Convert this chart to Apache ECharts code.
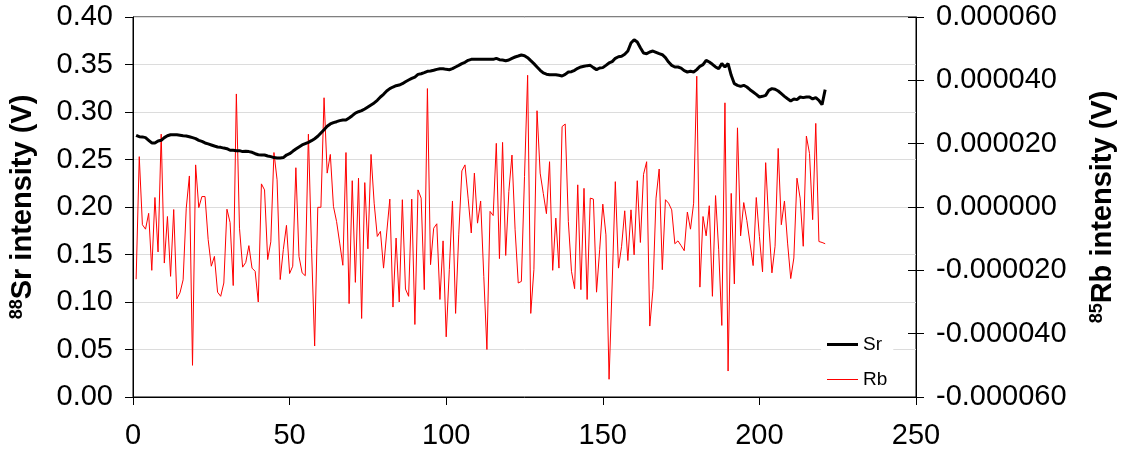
<!DOCTYPE html>
<html>
<head>
<meta charset="utf-8">
<script src="https://cdn.jsdelivr.net/npm/echarts@6/dist/echarts.min.js"></script>
<style>html,body{margin:0;padding:0;background:#fff}#chart{width:1129px;height:462px}</style>
</head>
<body>
<div id="chart"></div>
<script>
// Sr intensity (V), scans 1..221
const srValues = [
0.2755,0.274,0.2738,0.273,0.2702,0.2674,0.2674,0.2695,0.2702,0.273,
0.275,0.2761,0.276,0.276,0.2755,0.275,0.2748,0.274,0.273,0.272,
0.2702,0.269,0.2674,0.2664,0.2653,0.2642,0.2632,0.2628,0.262,0.2614,
0.2597,0.2597,0.2593,0.2593,0.2583,0.2586,0.2583,0.2576,0.2561,0.255,
0.2547,0.2547,0.2537,0.253,0.252,0.2516,0.2516,0.252,0.2547,0.2561,
0.2586,0.261,0.2632,0.2653,0.2667,0.2681,0.2698,0.2719,0.2744,0.2779,
0.2814,0.285,0.2874,0.2888,0.2898,0.2909,0.2916,0.2916,0.2937,0.2961,
0.2989,0.3003,0.3014,0.3032,0.3053,0.3074,0.3095,0.3123,0.3158,0.3186,
0.3221,0.3246,0.3263,0.3277,0.3284,0.3298,0.3319,0.3337,0.3354,0.3368,
0.3396,0.3403,0.3414,0.3428,0.3431,0.3439,0.3449,0.3456,0.3456,0.3449,
0.3445,0.3456,0.3474,0.3491,0.3509,0.3523,0.3544,0.3554,0.3554,0.3554,
0.3554,0.3554,0.3554,0.3554,0.3554,0.3565,0.3551,0.3547,0.354,0.3547,
0.3565,0.3579,0.3589,0.36,0.3593,0.3572,0.354,0.3509,0.3474,0.3439,
0.3411,0.3398,0.3393,0.3393,0.3393,0.3386,0.3379,0.3396,0.3421,0.3424,
0.3439,0.346,0.3474,0.3481,0.3488,0.3491,0.3467,0.3446,0.3463,0.3467,
0.3491,0.3516,0.353,0.3565,0.3582,0.3586,0.3607,0.3642,0.3726,0.3761,
0.3737,0.3677,0.3621,0.3614,0.3632,0.3642,0.3628,0.3614,0.3603,0.3572,
0.3526,0.3491,0.3474,0.3474,0.3462,0.3435,0.3421,0.3428,0.3421,0.3446,
0.3481,0.3498,0.3544,0.3526,0.3502,0.3474,0.3456,0.3509,0.3474,0.3509,
0.3386,0.3298,0.3281,0.327,0.3281,0.3263,0.3235,0.3211,0.3186,0.3158,
0.3165,0.3175,0.3228,0.3246,0.3239,0.3221,0.3193,0.3165,0.314,0.3116,
0.3137,0.313,0.3158,0.3151,0.3158,0.3158,0.3137,0.3151,0.3123,0.3077,
0.3235
];
// Rb intensity in microvolts (x 1e-6 V), scans 1..221
const rbMicroV = [
-22.8,15.9,-5.6,-7,-2,-20,3,-14.2,23,-17.7,
-3,-21.9,-0.8,-29,-27.1,-23,-0.4,9.8,-50,13.3,
-0.2,3.3,3.3,-10.3,-18.7,-15.6,-26.9,-28.2,-24,-0.7,
-4.9,-24.8,35.7,-6.7,-19,-17.5,-12.2,-19.3,-20.3,-30,
7.3,5.4,-16.6,-11,17.2,8.6,-22.9,-13.4,-5.8,-21,
-18.7,12.4,-15.6,-20.8,-21.7,23,-13,-43.9,-0.1,-0.1,
34.5,10.7,16.6,0.2,-4.6,-11.4,-18.4,17.2,-30.5,8.3,
-23.8,9.1,-35.2,7.7,-13.2,16.6,1.2,-9.3,-7.7,-19.3,
-8.2,2.5,-31.6,-9.8,-30,2.3,-25.9,-28.2,2.5,-37.1,
5.4,2.8,-26.1,37.4,-18.2,-6.7,-5.3,-29.2,-10.7,-41,
-19.7,1.9,-33.6,-8.8,11.4,13.3,2.8,-8.2,10.7,-5.1,
1.9,-21.9,-45,-1.4,-2.7,20.1,-16.3,20.4,-15.3,4.9,
16.4,-7.2,-24,-23.5,9.6,41.6,-33.6,-19.8,30.4,10.7,
4.3,-2.1,14.3,-20,-3.5,-19.3,25.4,26.2,-4.6,-20.3,
-25.8,7,-26.1,5.9,-29.2,2.8,2.5,-26.9,-13.5,0.9,
-8.8,-54.4,-24,8,-19.3,-12.4,-1.2,-16.9,-0.9,-15.1,
8.3,-11.2,10.3,14.3,-37.6,-26.1,2.8,12,-19.8,2.3,
1.2,-0.9,-11.6,-10.7,-12.2,-13.8,-1.6,-7,1.2,41.3,
-25.3,-3,-9.1,0.4,-28.2,3.6,-13.5,-37.4,32.9,-51.8,
4.3,-24.3,25,-9.1,1.4,-4.3,-11.4,-18.5,3,-9.3,
-20.5,14,-5.1,-20.8,-12.4,18.5,-5.6,1.9,-11.4,-22.6,
-16.1,9.1,2.8,-12.4,22.4,16.9,-4,26.4,-10.9,-11.2,
-11.6
];
const scanIndex = srValues.map((_, i) => i + 1);
const seriesNames = ['Sr', 'Rb'];

const FONT = '"Liberation Sans", Arial, sans-serif';
const chart = echarts.init(document.getElementById('chart'), null, {renderer: 'canvas'});
const tickLabel = {color: '#000', fontSize: 29, fontFamily: FONT};
const nameRich = {
  s: {fontSize: 18, fontWeight: 'bold', fontFamily: FONT, color: '#000', verticalAlign: 'top', padding: [0, 0, 11, 0]},
  t: {fontSize: 29, fontWeight: 'bold', fontFamily: FONT, color: '#000'}
};
chart.setOption({
  animation: false,
  backgroundColor: '#fff',
  grid: {left: 133, right: 213, top: 17, bottom: 65, show: true, borderColor: '#000', borderWidth: 1, containLabel: false, outerBoundsMode: 'none'},
  legend: {
    data: [
      {name: seriesNames[0], icon: 'path://M0,0L31,0L31,3L0,3Z'},
      {name: seriesNames[1], icon: 'path://M0,0L31,0L31,1L0,1Z'}
    ],
    orient: 'vertical', left: 821, top: 329, padding: [6, 6, 6, 6],
    itemWidth: 31, itemHeight: 14, itemGap: 16, backgroundColor: '#fff',
    textStyle: {color: '#000', fontSize: 19, fontFamily: FONT}
  },
  xAxis: {
    type: 'value', min: 0, max: 250, interval: 50,
    axisLine: {show: true, onZero: false, lineStyle: {color: '#000', width: 1}},
    axisTick: {show: true, length: 8, lineStyle: {color: '#000'}},
    axisLabel: Object.assign({margin: 24}, tickLabel),
    splitLine: {show: false}
  },
  yAxis: [
    {
      type: 'value', position: 'left', min: 0, max: 0.4, interval: 0.05,
      name: '{s|88}{t|Sr intensity (V)}', nameLocation: 'middle', nameRotate: 90, nameGap: 96,
      nameTextStyle: {rich: nameRich},
      axisLine: {show: true, lineStyle: {color: '#000'}},
      axisTick: {show: true, length: 8, lineStyle: {color: '#000'}},
      axisLabel: Object.assign({margin: 20, formatter: v => v.toFixed(2)}, tickLabel),
      splitLine: {show: true, lineStyle: {color: '#dcdcdc', width: 1}}
    },
    {
      type: 'value', position: 'right', min: -60, max: 60, interval: 20,
      name: '{s|85}{t|Rb intensity (V)}', nameLocation: 'middle', nameRotate: 90, nameGap: 172,
      nameTextStyle: {rich: nameRich},
      axisLine: {show: true, lineStyle: {color: '#000'}},
      axisTick: {show: true, length: 8, lineStyle: {color: '#000'}},
      axisLabel: Object.assign({margin: 20, formatter: v => (v * 1e-6).toFixed(6)}, tickLabel),
      splitLine: {show: false}
    },
    {
      type: 'value', position: 'right', min: -60, max: 60, interval: 20,
      axisLine: {show: false},
      axisTick: {show: true, inside: true, length: 8, lineStyle: {color: '#000'}},
      axisLabel: {show: false},
      splitLine: {show: false}
    }
  ],
  series: [
    {
      name: 'Rb', type: 'line', yAxisIndex: 1, symbol: 'none', showSymbol: false, z: 2,
      lineStyle: {color: '#ff0000', width: 1}, itemStyle: {color: '#ff0000'},
      data: scanIndex.map((x, i) => [x, rbMicroV[i]])
    },
    {
      name: 'Sr', type: 'line', yAxisIndex: 0, symbol: 'none', showSymbol: false, z: 3,
      lineStyle: {color: '#000', width: 3}, itemStyle: {color: '#000'},
      data: scanIndex.map((x, i) => [x, srValues[i]])
    }
  ]
});
</script>
</body>
</html>
